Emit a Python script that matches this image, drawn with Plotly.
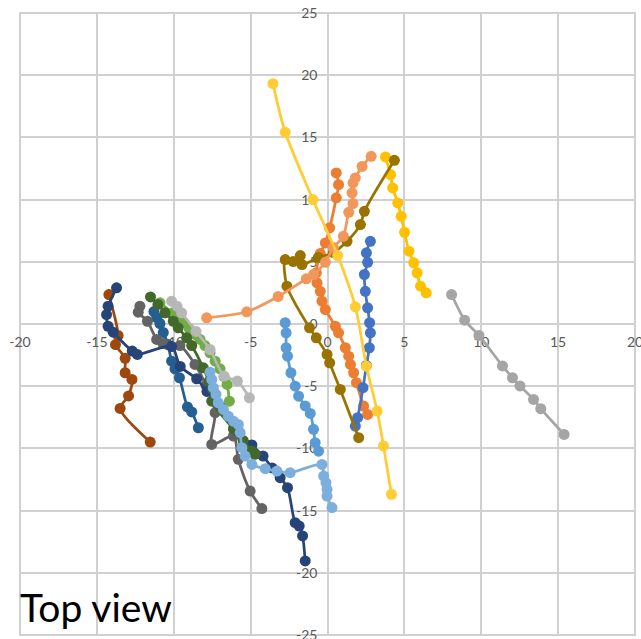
import plotly.graph_objects as go

# Tracked paths seen from above (x, y in metres), one pair of lists per path
p01_x = [-2.75, -2.69, -2.69, -2.60, -2.38, -2.10, -1.88, -1.45, -1.12, -0.91, -0.80, -0.58]
p01_y = [0.10, -0.71, -1.91, -2.59, -3.92, -5.00, -5.80, -6.59, -7.19, -8.47, -9.54, -10.22]

p02_x = [0.57, 0.72, 0.57, 0.14, -0.14, -0.47, -0.73, -0.68, -0.47, -0.36, -0.14, 0.51, 0.72, 1.16, 1.38, 1.49, 1.70, 1.88, 2.35, 2.61]
p02_y = [12.14, 11.20, 10.14, 7.73, 6.52, 5.66, 4.11, 3.31, 2.63, 1.83, 1.16, -0.18, -0.71, -1.91, -2.59, -3.25, -3.92, -4.72, -6.60, -7.27]

p03_x = [8.07, 8.92, 9.85, 11.38, 12.03, 12.52, 13.40, 13.87, 15.39]
p03_y = [2.37, 0.31, -0.92, -3.37, -4.32, -4.98, -6.06, -6.81, -8.88]

p04_x = [3.77, 4.10, 4.24, 4.57, 4.79, 5.01, 5.30, 5.61, 5.83, 6.05, 6.42]
p04_y = [13.43, 12.01, 10.94, 9.73, 8.66, 7.37, 5.85, 4.92, 4.11, 3.04, 2.51]

p05_x = [2.79, 2.53, 2.61, 2.40, 2.46, 2.61, 2.74, 2.79, 2.72, 2.53, 2.31, 1.96, 1.81]
p05_y = [6.65, 5.72, 4.96, 3.98, 2.63, 1.30, 0.10, -0.71, -1.91, -3.33, -5.12, -7.53, -8.21]

p06_x = [-10.90, -10.07, -9.38, -8.99, -8.62, -8.29, -7.97, -7.64, -7.31, -6.99, -6.73, -6.53, -6.38]
p06_y = [1.70, 0.90, 0.14, -0.39, -0.84, -1.24, -1.73, -2.31, -2.99, -3.60, -4.22, -4.86, -6.20]

p07_x = [-11.29, -11.10, -10.90, -10.68, -10.38, -10.14, -9.92, -9.63, -9.11, -8.83, -8.40]
p07_y = [1.00, 0.52, 0.04, -0.68, -1.65, -2.99, -3.61, -4.32, -6.67, -7.07, -8.34]

p08_x = [-14.22, -13.62, -13.79, -13.16, -13.16, -12.72, -12.94, -13.49, -11.53]
p08_y = [2.37, -0.92, -1.65, -2.76, -3.92, -4.46, -5.78, -6.79, -9.49]

p09_x = [-12.20, -12.31, -11.71, -11.11, -10.70, -9.60, -8.62, -7.90, -7.31, -7.53, -6.12, -5.80, -5.03, -4.27]
p09_y = [1.43, 0.95, 0.22, -1.24, -1.57, -1.73, -3.25, -4.94, -7.13, -9.68, -9.01, -10.88, -13.43, -14.84]

p10_x = [4.35, 2.40, 2.14, 1.27, 0.38, -0.60, -1.66, -1.77, -2.23, -2.75, -2.64, -1.17, -0.73, -0.03, 0.14, 0.83, 2.03]
p10_y = [13.16, 9.06, 7.99, 6.65, 5.74, 5.34, 4.78, 5.50, 5.02, 5.18, 3.04, -0.31, -1.11, -2.45, -3.12, -5.26, -9.14]

p11_x = [-13.72, -14.27, -14.37, -14.27, -13.94, -12.70, -12.37, -10.14, -9.58, -8.51, -7.84, -6.99, -5.81, -4.92, -4.19, -3.60, -3.08, -2.60, -2.10, -1.84, -1.62, -1.45]
p11_y = [2.91, 1.43, 0.76, -0.18, -0.66, -2.18, -2.45, -1.81, -3.41, -4.40, -5.42, -6.63, -8.63, -9.72, -10.62, -11.57, -12.35, -13.16, -15.97, -16.24, -17.04, -19.05]

p12_x = [-11.51, -11.03, -10.57, -10.03, -9.71, -9.16, -8.83, -8.08, -7.71, -7.46, -7.53, -6.12, -5.49, -4.92, -4.71]
p12_y = [2.18, 1.57, 0.90, 0.22, -0.31, -1.11, -1.73, -3.52, -4.62, -5.26, -6.20, -8.42, -9.36, -10.22, -10.48]

p13_x = [-7.64, -7.53, -7.43, -7.25, -7.10, -6.77, -6.45, -6.12, -5.80, -5.68, -5.57, -5.36, -4.92, -4.05, -3.29, -2.43, -0.36, -0.25, -0.10, -0.03, -0.03, 0.29]
p13_y = [-3.87, -4.46, -5.12, -5.66, -6.33, -6.87, -7.41, -7.81, -8.07, -8.74, -9.94, -10.62, -11.29, -11.63, -11.82, -11.95, -11.29, -12.22, -12.76, -13.29, -13.83, -14.76]

p14_x = [-7.86, -5.25, -3.21, -1.38, -0.91, -0.14, 0.38, 1.03, 1.38, 1.66, 1.60, 1.66, 1.81, 2.25, 2.84]
p14_y = [0.50, 0.98, 2.21, 3.63, 3.98, 4.96, 6.14, 7.05, 8.98, 9.68, 10.54, 11.34, 11.74, 12.67, 13.48]

p15_x = [-10.14, -9.79, -9.49, -8.55, -7.64, -6.73, -5.86, -5.08]
p15_y = [1.83, 1.43, 0.90, -0.60, -2.05, -4.19, -4.59, -5.93]

p16_x = [-3.55, -2.75, -0.95, 0.66, 1.81, 2.53, 3.23, 3.64, 4.16]
p16_y = [19.32, 15.41, 10.00, 5.50, 1.38, -3.39, -7.00, -9.80, -13.69]

paths = [
    (p01_x, p01_y, "#5B9BD5"),
    (p02_x, p02_y, "#ED7D31"),
    (p03_x, p03_y, "#A5A5A5"),
    (p04_x, p04_y, "#FFC000"),
    (p05_x, p05_y, "#4472C4"),
    (p06_x, p06_y, "#70AD47"),
    (p07_x, p07_y, "#255E91"),
    (p08_x, p08_y, "#9E480E"),
    (p09_x, p09_y, "#636363"),
    (p10_x, p10_y, "#997300"),
    (p11_x, p11_y, "#264478"),
    (p12_x, p12_y, "#43682B"),
    (p13_x, p13_y, "#7CAFDD"),
    (p14_x, p14_y, "#F1975A"),
    (p15_x, p15_y, "#B7B7B7"),
    (p16_x, p16_y, "#FFCD33"),
]

x_ticks = [-20, -15, -10, -5, 0, 5, 10, 15, 20]
y_ticks = [-25, -20, -15, -10, -5, 0, 5, 10, 15, 20, 25]

fig = go.Figure()
for xs, ys, col in paths:
    fig.add_trace(go.Scatter(
        x=xs, y=ys, mode="lines+markers",
        line=dict(color=col, width=2.75, shape="spline", smoothing=0.8),
        marker=dict(color=col, size=11),
        showlegend=False, hoverinfo="skip",
    ))

grid = "#D0D0D0"
tick_font = dict(family="Lato, Calibri, sans-serif", size=14, color="#595959")

axis_common = dict(
    showgrid=True, gridcolor=grid, gridwidth=2,
    zeroline=True, zerolinecolor=grid, zerolinewidth=2,
    showline=False, anchor="free", position=0.5, ticks="",
    tickfont=tick_font, layer="below traces", fixedrange=True,
    ticklabeloverflow="allow", automargin=False,
)

fig.update_layout(
    width=641, height=639,
    margin=dict(l=20, r=6, t=13, b=4),
    paper_bgcolor="white", plot_bgcolor="white",
    xaxis=dict(range=[-20, 20], tickvals=x_ticks, ticktext=[str(v) for v in x_ticks],
               ticklabelstandoff=8, **axis_common),
    yaxis=dict(range=[-25, 25], tickvals=y_ticks, ticktext=[str(v) for v in y_ticks],
               ticklabelstandoff=10, **axis_common),
    shapes=[dict(type="rect", xref="paper", yref="paper", x0=0, y0=0, x1=1, y1=1,
                 line=dict(color=grid, width=2), layer="below")],
    annotations=[dict(
        text="Top view", xref="paper", yref="paper", x=-0.004, y=0.045,
        xanchor="left", yanchor="middle", showarrow=False,
        font=dict(family="Lato, Calibri, sans-serif", size=39, color="black"),
    )],
)

fig.write_html("out.html")
